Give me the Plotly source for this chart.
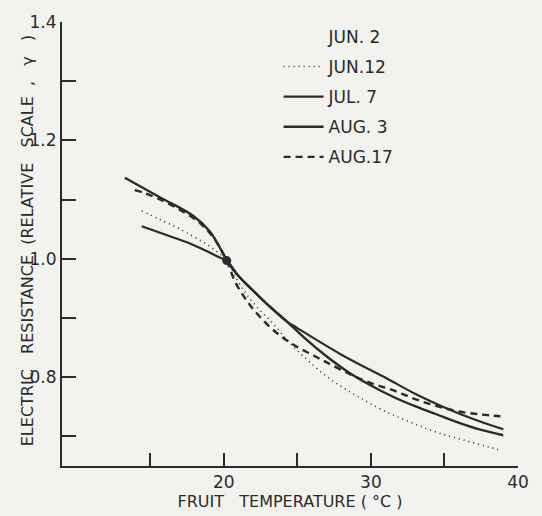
import plotly.graph_objects as go

# ---- data ----
jun12_x = [14.42, 15.6, 16.8, 17.9, 18.8, 19.6, 20.2, 21.0, 21.7, 22.5, 23.3, 24.2, 25.0, 26.0, 27.0, 28.0, 29.0, 30.0, 31.0, 32.0, 33.0, 34.0, 35.0, 36.0, 37.0, 38.0, 38.9]
jun12_y = [1.081, 1.067, 1.053, 1.038, 1.025, 1.011, 0.997, 0.960, 0.935, 0.912, 0.892, 0.866, 0.845, 0.822, 0.801, 0.784, 0.769, 0.755, 0.742, 0.731, 0.721, 0.711, 0.703, 0.696, 0.689, 0.682, 0.676]

jul7_x = [14.42, 16.0, 17.69, 18.84, 19.73, 20.2, 21.0, 22.0, 23.0, 24.29, 25.0, 26.5, 28.0, 29.5, 31.0, 33.0, 35.0, 37.0, 39.0]
jul7_y = [1.055, 1.041, 1.026, 1.013, 1.002, 0.997, 0.971, 0.946, 0.922, 0.894, 0.883, 0.860, 0.838, 0.818, 0.799, 0.772, 0.749, 0.729, 0.712]

aug3_x = [13.27, 15.65, 17.89, 19.05, 19.86, 20.2, 21.0, 22.0, 23.0, 24.29, 25.5, 27.0, 28.5, 30.0, 31.5, 33.0, 34.5, 36.0, 37.5, 39.0]
aug3_y = [1.137, 1.104, 1.073, 1.046, 1.013, 0.997, 0.971, 0.946, 0.922, 0.894, 0.866, 0.835, 0.808, 0.786, 0.767, 0.751, 0.737, 0.723, 0.711, 0.702]

aug17_x = [13.95, 14.5, 15.5, 17.0, 18.4, 19.4, 20.2, 20.75, 21.4, 22.1, 23.0, 24.0, 25.0, 26.0, 27.0, 28.5, 30.0, 31.5, 33.0, 34.5, 36.0, 37.5, 38.8]
aug17_y = [1.116, 1.112, 1.102, 1.083, 1.060, 1.032, 0.997, 0.962, 0.935, 0.912, 0.888, 0.867, 0.851, 0.838, 0.825, 0.806, 0.790, 0.778, 0.763, 0.751, 0.742, 0.737, 0.734]

ref_x = [20.2]
ref_y = [0.997]

series_names = ["JUN. 2", "JUN.12", "JUL. 7", "AUG. 3", "AUG.17"]

y_tickvals = [0.7, 0.8, 0.9, 1.0, 1.1, 1.2, 1.3, 1.4]
y_ticktext = ["", "0.8", "", "1.0", "", "1.2", "", "1.4"]
x_tickvals = [15, 20, 25, 30, 35, 40]
x_ticktext = ["", "20", "", "30", "", "40"]

x_title = "FRUIT\u00a0\u00a0\u00a0TEMPERATURE\u00a0(\u00a0°C\u00a0)"
y_title = ("ELECTRIC\u00a0\u00a0\u00a0RESISTANCE\u00a0\u00a0(RELATIVE\u00a0\u00a0\u00a0SCALE"
           "\u00a0\u00a0,\u00a0\u00a0\u00a0γ\u00a0\u00a0\u00a0)")

INK = "#2b2b2b"
BG = "#f2f2ee"
FONT = "DejaVu Sans"

fig = go.Figure()

# JUN. 2 : no curve visible in the reference, legend label only
fig.add_trace(go.Scatter(x=[None], y=[None], mode="lines", name=series_names[0],
                         line=dict(color=INK, width=0), legendgroup="a"))
fig.add_trace(go.Scatter(x=jun12_x, y=jun12_y, mode="lines", name=series_names[1],
                         line=dict(color=INK, width=1.6, dash="1px,4px", shape="spline"),
                         legendgroup="b"))
fig.add_trace(go.Scatter(x=jul7_x, y=jul7_y, mode="lines", name=series_names[2],
                         line=dict(color=INK, width=2.2, shape="spline"), legendgroup="c"))
fig.add_trace(go.Scatter(x=aug3_x, y=aug3_y, mode="lines", name=series_names[3],
                         line=dict(color=INK, width=2.4, shape="spline"), legendgroup="d"))
fig.add_trace(go.Scatter(x=aug17_x, y=aug17_y, mode="lines", name=series_names[4],
                         line=dict(color=INK, width=2.4, dash="7px,5px", shape="spline"),
                         legendgroup="e"))
fig.add_trace(go.Scatter(x=ref_x, y=ref_y, mode="markers", showlegend=False,
                         marker=dict(color=INK, size=9)))

fig.update_layout(
    width=542, height=516,
    margin=dict(l=62, r=24, t=19, b=44),
    paper_bgcolor=BG, plot_bgcolor=BG,
    font=dict(family=FONT, size=16, color=INK),
    showlegend=True,
    legend=dict(x=0.475, y=1.007, xanchor="left", yanchor="top",
                bgcolor="rgba(0,0,0,0)", font=dict(size=17, color=INK),
                traceorder="grouped", tracegroupgap=5, itemwidth=40),
    xaxis=dict(range=[9, 40], showgrid=False, zeroline=False,
               showline=True, linecolor=INK, linewidth=2,
               ticks="inside", ticklen=13, tickwidth=2, tickcolor=INK,
               tickvals=x_tickvals, ticktext=x_ticktext,
               tickfont=dict(size=17),
               title=dict(text=x_title, font=dict(size=16), standoff=0)),
    yaxis=dict(range=[0.65, 1.4], showgrid=False, zeroline=False,
               showline=True, linecolor=INK, linewidth=2,
               ticks="inside", ticklen=14, tickwidth=2, tickcolor=INK,
               tickvals=y_tickvals, ticktext=y_ticktext,
               tickfont=dict(size=17)),
    annotations=[dict(text=y_title, xref="paper", yref="paper",
                      x=-0.075, y=0.508, xanchor="center", yanchor="middle",
                      textangle=-90, showarrow=False, font=dict(size=16, color=INK))],
)

fig.write_html("out.html")
